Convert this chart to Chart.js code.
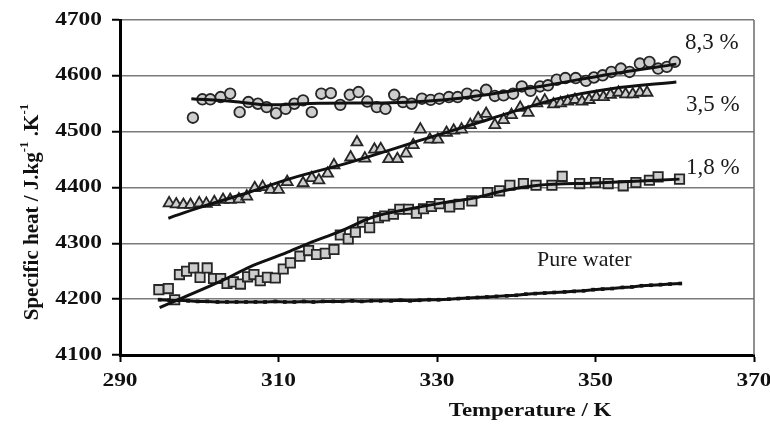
<!DOCTYPE html>
<html><head><meta charset="utf-8">
<script src="https://cdn.jsdelivr.net/npm/chart.js@4/dist/chart.umd.min.js"></script>
<style>html,body{margin:0;padding:0;background:#fff;}canvas{display:block;}</style>
</head><body>
<canvas id="c" width="770" height="430"></canvas>
<script>
// ---- data ----
const xTicks = [290, 310, 330, 350, 370];
const yTicks = [4100, 4200, 4300, 4400, 4500, 4600, 4700];

// 8,3 % (circles)
const circT = [299.2,300.4,301.4,302.7,303.9,305.1,306.2,307.4,308.5,309.7,310.9,312.0,313.1,314.2,315.4,316.6,317.8,319.0,320.1,321.2,322.4,323.5,324.6,325.7,326.8,328.1,329.2,330.3,331.5,332.6,333.8,334.9,336.2,337.3,338.4,339.6,340.7,341.8,343.0,344.0,345.1,346.2,347.5,348.8,349.8,350.9,352.0,353.2,354.3,355.6,356.8,357.9,359.0,360.0];
const circCp = [4525,4558,4558,4562,4568,4535,4553,4550,4544,4533,4541,4550,4556,4535,4568,4569,4548,4566,4571,4554,4544,4541,4566,4553,4550,4559,4557,4559,4562,4562,4568,4565,4575,4564,4565,4568,4581,4573,4581,4583,4593,4596,4596,4591,4597,4601,4607,4613,4607,4622,4625,4613,4616,4625];
const fit83T = [299.0,304.3,308.9,315.2,324.1,332.9,343.0,351.8,360.2];
const fit83Cp = [4559,4554,4548,4551,4552,4560,4581,4603,4621];

// 3,5 % (triangles)
const triT = [296.2,297.1,298.0,298.9,300.0,300.9,301.9,303.0,303.9,305.0,306.0,307.0,308.0,309.0,310.0,311.1,313.1,314.2,315.1,316.2,317.0,319.1,319.9,320.9,322.1,322.9,323.9,325.0,326.1,327.0,327.9,329.1,330.1,331.2,332.1,333.1,334.2,335.2,336.2,337.3,338.4,339.4,340.5,341.5,342.6,343.6,344.7,345.6,346.5,347.4,348.3,349.2,350.1,351.0,351.9,352.9,353.8,354.7,355.6,356.5];
const triCp = [4372,4370,4369,4369,4372,4371,4374,4378,4378,4379,4384,4399,4401,4396,4396,4410,4408,4417,4413,4425,4440,4454,4481,4452,4468,4469,4451,4451,4461,4476,4504,4486,4486,4498,4502,4504,4512,4524,4532,4512,4521,4530,4543,4534,4551,4556,4549,4551,4554,4557,4554,4557,4562,4562,4566,4570,4567,4567,4570,4570];
const fit35T = [296.1,300.0,306.4,311.5,319.0,328.5,336.3,345.5,352.0,360.2];
const fit35Cp = [4345,4364,4392,4416,4445,4487,4521,4560,4577,4589];

// 1,8 % (squares)
const sqT = [294.9,296.1,296.9,297.5,298.4,299.3,300.1,301.0,301.8,302.7,303.5,304.3,305.2,306.1,306.9,307.7,308.6,309.6,310.6,311.5,312.7,313.8,314.8,315.9,317.0,317.8,318.8,319.7,320.6,321.5,322.6,323.4,324.5,325.3,326.4,327.4,328.3,329.3,330.3,331.6,332.8,334.4,336.4,337.9,339.2,340.9,342.5,344.5,345.8,348.0,350.0,351.6,353.5,355.1,356.8,357.9,360.6];
const sqCp = [4217,4219,4199,4244,4250,4256,4239,4256,4237,4237,4228,4231,4227,4240,4244,4233,4239,4238,4254,4265,4277,4287,4280,4282,4289,4315,4308,4320,4338,4328,4346,4349,4352,4361,4361,4354,4362,4366,4371,4365,4370,4376,4391,4394,4404,4407,4404,4404,4420,4407,4409,4407,4403,4409,4413,4419,4415];
const fit18T = [295.0,303.0,306.4,310.8,313.8,317.7,322.1,326.3,330.5,334.6,339.0,342.8,350.0,360.6];
const fit18Cp = [4185,4234,4258,4282,4300,4321,4348,4361,4372,4381,4396,4404,4408,4415];

// Pure water
const pwT = [295.0,296.2,297.4,298.6,299.8,301.0,302.3,303.5,304.7,305.9,307.1,308.3,309.6,310.8,312.0,313.2,314.4,315.6,316.9,318.1,319.3,320.5,321.7,322.9,324.2,325.4,326.6,327.8,329.0,330.2,331.5,332.7,333.9,335.1,336.3,337.5,338.8,340.0,341.2,342.4,343.6,344.8,346.1,347.3,348.5,349.7,350.9,352.1,353.4,354.6,355.8,357.0,358.2,359.4,360.7];
const pwCp = [4199,4198,4198,4197,4196,4196,4195,4195,4195,4195,4195,4195,4196,4195,4195,4196,4195,4196,4196,4196,4197,4196,4197,4197,4197,4198,4197,4198,4199,4199,4200,4201,4202,4203,4204,4205,4206,4207,4209,4210,4211,4212,4213,4214,4215,4217,4218,4219,4221,4222,4224,4225,4226,4227,4228];

const seriesLabels = ['8,3 %', '3,5 %', '1,8 %', 'Pure water'];
const xTitle = 'Temperature / K';

// ---- build ----
const pts = (xs, ys) => xs.map((x, i) => ({x: x, y: ys[i]}));
const SERIF = '"Liberation Serif", "Times New Roman", serif';
const fitStyle = {showLine: true, pointRadius: 0, borderColor: '#111', borderWidth: 3, cubicInterpolationMode: 'monotone', fill: false};
const markStyle = {showLine: false, backgroundColor: '#cdcdcd', borderColor: '#262626', borderWidth: 1.8};

function stretchText(ctx, str, x, y, font, sx, align) {
  ctx.save();
  ctx.font = font;
  ctx.textBaseline = 'middle';
  ctx.textAlign = 'left';
  const w = ctx.measureText(str).width * sx;
  const left = align === 'right' ? x - w : (align === 'center' ? x - w / 2 : x);
  ctx.translate(left, y);
  ctx.scale(sx, 1);
  ctx.fillText(str, 0, 0);
  ctx.restore();
}

const textPlugin = {
  id: 'textPlugin',
  afterDraw(chart) {
    const ctx = chart.ctx, xs = chart.scales.x, ys = chart.scales.y, ca = chart.chartArea;
    // right frame line
    ctx.save();
    ctx.strokeStyle = '#6a6a6a'; ctx.lineWidth = 1.5;
    ctx.beginPath(); ctx.moveTo(ca.right, ca.top); ctx.lineTo(ca.right, ca.bottom); ctx.stroke();
    ctx.restore();

    ctx.fillStyle = '#111';
    const tickFont = 'bold 18px ' + SERIF;
    ys.ticks.forEach(t => stretchText(ctx, String(t.value), ca.left - 18, ys.getPixelForValue(t.value), tickFont, 1.3, 'right'));
    xs.ticks.forEach(t => stretchText(ctx, String(t.value), xs.getPixelForValue(t.value), ca.bottom + 26, tickFont, 1.3, 'center'));
    stretchText(ctx, xTitle, 530, ca.bottom + 56, 'bold 18px ' + SERIF, 1.27, 'center');

    // y title with superscripts
    ctx.save();
    const parts = [['Specific heat / J.kg', false], ['-1', true], [' .K', false], ['-1', true]];
    const mainF = 'bold 21px ' + SERIF, supF = 'bold 13px ' + SERIF;
    let total = 0;
    parts.forEach(p => { ctx.font = p[1] ? supF : mainF; total += ctx.measureText(p[0]).width; });
    ctx.translate(38, 212);
    ctx.rotate(-Math.PI / 2);
    ctx.textBaseline = 'alphabetic'; ctx.textAlign = 'left';
    let cx = -total / 2;
    parts.forEach(p => {
      ctx.font = p[1] ? supF : mainF;
      ctx.fillText(p[0], cx, p[1] ? -10 : 0);
      cx += ctx.measureText(p[0]).width;
    });
    ctx.restore();

    // series annotations
    ctx.save();
    ctx.fillStyle = '#1a1a1a';
    ctx.textBaseline = 'middle'; ctx.textAlign = 'left';
    ctx.font = '23px ' + SERIF;
    ctx.fillText(seriesLabels[0], 685, 43);
    ctx.fillText(seriesLabels[1], 686, 105);
    ctx.fillText(seriesLabels[2], 686, 168);
    ctx.font = '22px ' + SERIF;
    ctx.fillText(seriesLabels[3], 537, 260);
    ctx.restore();
  }
};

new Chart(document.getElementById('c'), {
  type: 'scatter',
  data: {
    datasets: [
      Object.assign({label: 'fit 8,3 %', data: pts(fit83T, fit83Cp)}, fitStyle),
      Object.assign({label: 'fit 3,5 %', data: pts(fit35T, fit35Cp)}, fitStyle),
      Object.assign({label: 'fit 1,8 %', data: pts(fit18T, fit18Cp)}, fitStyle),
      {label: seriesLabels[3], data: pts(pwT, pwCp), showLine: true, borderColor: '#111', borderWidth: 3,
       pointStyle: 'rect', pointRadius: 2.6, backgroundColor: '#111', pointBorderWidth: 0, tension: 0},
      Object.assign({label: seriesLabels[2], data: pts(sqT, sqCp), pointStyle: 'rect', pointRadius: 6.6}, markStyle),
      Object.assign({label: seriesLabels[1], data: pts(triT, triCp), pointStyle: 'triangle', pointRadius: 6.3}, markStyle),
      Object.assign({label: seriesLabels[0], data: pts(circT, circCp), pointStyle: 'circle', pointRadius: 5.3}, markStyle)
    ]
  },
  options: {
    responsive: false,
    animation: false,
    devicePixelRatio: 1,
    layout: {padding: {left: 0, top: 20, right: 16, bottom: 0}},
    plugins: {legend: {display: false}, tooltip: {enabled: false}, title: {display: false}},
    scales: {
      x: {
        type: 'linear', min: 290, max: 370,
        afterBuildTicks: s => { s.ticks = xTicks.map(v => ({value: v})); },
        afterFit: s => { s.height = 75; },
        ticks: {display: false},
        grid: {drawOnChartArea: false, drawTicks: true, tickLength: 7, tickColor: '#000', tickWidth: 2},
        border: {display: true, color: '#000', width: 3}
      },
      y: {
        type: 'linear', min: 4100, max: 4700,
        afterBuildTicks: s => { s.ticks = yTicks.map(v => ({value: v})); },
        afterFit: s => { s.width = 120; },
        ticks: {display: false},
        grid: {drawOnChartArea: true, color: '#7a7a7a', lineWidth: 1.5, drawTicks: true, tickLength: 8, tickColor: '#000', tickWidth: 2},
        border: {display: true, color: '#000', width: 3}
      }
    }
  },
  plugins: [textPlugin]
});
</script>
</body></html>
